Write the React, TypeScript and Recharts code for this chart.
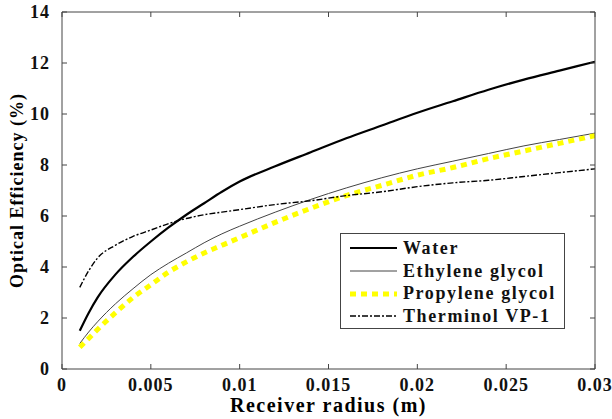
import { LineChart, Line, XAxis, YAxis, Legend } from 'recharts'

const radius = [0.001, 0.0015, 0.002, 0.003, 0.004, 0.005, 0.006, 0.007, 0.008, 0.009, 0.01, 0.012, 0.014, 0.016, 0.018, 0.02, 0.022, 0.024, 0.026, 0.028, 0.03]
const water = [1.5, 2.2, 2.8, 3.7, 4.4, 5.0, 5.55, 6.05, 6.5, 6.95, 7.35, 7.95, 8.5, 9.05, 9.55, 10.05, 10.5, 10.95, 11.35, 11.7, 12.05]
const ethylene = [1.0, 1.45, 1.85, 2.55, 3.15, 3.7, 4.15, 4.55, 4.95, 5.3, 5.6, 6.15, 6.65, 7.1, 7.5, 7.85, 8.15, 8.45, 8.75, 9.0, 9.25]
const propylene = [0.85, 1.2, 1.55, 2.2, 2.8, 3.3, 3.8, 4.2, 4.55, 4.85, 5.15, 5.75, 6.3, 6.8, 7.2, 7.6, 7.9, 8.25, 8.55, 8.85, 9.15]
const therminol = [3.2, 3.85, 4.35, 4.85, 5.2, 5.45, 5.7, 5.9, 6.05, 6.15, 6.25, 6.45, 6.6, 6.8, 6.95, 7.15, 7.3, 7.4, 7.55, 7.7, 7.85]

const xTicks = [0, 0.005, 0.01, 0.015, 0.02, 0.025, 0.03]
const yTicks = [0, 2, 4, 6, 8, 10, 12, 14]
const xDomain = [0, 0.03]
const yDomain = [0, 14]

const data = radius.map((r, i) => ({
  r,
  water: water[i],
  ethylene: ethylene[i],
  propylene: propylene[i],
  therminol: therminol[i],
}))

const FONT = '"Liberation Serif", "Times New Roman", serif'
const AXIS = '#444'

// every axis gets a series; all share the same domain, so the scales are identical
const series = [
  { key: 'water', name: 'Water', stroke: '#000', width: 2.2, dash: undefined as string | undefined, xId: 'bottom', yId: 'left' },
  { key: 'ethylene', name: 'Ethylene glycol', stroke: '#444', width: 1, dash: undefined, xId: 'bottomTicks', yId: 'leftTicks' },
  { key: 'propylene', name: 'Propylene glycol', stroke: '#ffff00', width: 5, dash: '6 5', xId: 'top', yId: 'right' },
  { key: 'therminol', name: 'Therminol VP-1', stroke: '#000', width: 1.4, dash: '6 2 2 2', xId: 'top', yId: 'right' },
]

function LegendBox() {
  return (
    <div
      style={{
        border: '1px solid #444',
        background: '#fff',
        width: 225,
        height: 96,
        boxSizing: 'border-box',
        padding: '3px 0 0 9px',
        fontFamily: FONT,
        fontWeight: 'bold',
        fontSize: 18,
        letterSpacing: 1.6,
        lineHeight: '22.7px',
      }}
    >
      {series.map((s) => (
        <div key={s.key} style={{ display: 'flex', alignItems: 'center', height: 22.7 }}>
          <svg width={47} height={10} style={{ marginRight: 6, flex: 'none' }}>
            <line x1={0} y1={5} x2={47} y2={5} stroke={s.stroke} strokeWidth={s.width} strokeDasharray={s.dash} />
          </svg>
          <span style={{ color: '#111', whiteSpace: 'nowrap' }}>{s.name}</span>
        </div>
      ))}
    </div>
  )
}

const tickStyle = { fontSize: 18, fontWeight: 'bold', fill: '#111', fontFamily: FONT, letterSpacing: 1 }
const noLabel = () => ''

export default function App() {
  return (
    <div style={{ position: 'absolute', left: 0, top: 0, width: 612, height: 419, background: '#fff' }}>
      <LineChart width={612} height={419} data={data} margin={{ top: 12, right: 17, bottom: 3, left: 7 }}>
        {/* box frame with inward tick marks */}
        <XAxis xAxisId="bottomTicks" type="number" dataKey="r" domain={xDomain} allowDataOverflow ticks={xTicks} interval={0} tickFormatter={noLabel} mirror tickSize={5} height={1} stroke={AXIS} />
        <XAxis xAxisId="top" orientation="top" type="number" dataKey="r" domain={xDomain} allowDataOverflow ticks={xTicks} interval={0} tickFormatter={noLabel} mirror tickSize={5} height={1} stroke={AXIS} />
        <YAxis yAxisId="leftTicks" type="number" domain={yDomain} allowDataOverflow ticks={yTicks} interval={0} tickFormatter={noLabel} mirror tickSize={5} width={1} stroke={AXIS} />
        <YAxis yAxisId="right" orientation="right" type="number" domain={yDomain} allowDataOverflow ticks={yTicks} interval={0} tickFormatter={noLabel} mirror tickSize={5} width={1} stroke={AXIS} />
        <XAxis
          xAxisId="bottom"
          dataKey="r"
          type="number"
          domain={xDomain}
          allowDataOverflow
          ticks={xTicks}
          interval={0}
          tick={tickStyle}
          tickLine={false}
          axisLine={false}
          tickMargin={3}
          height={47}
          stroke={AXIS}
          label={{ value: 'Receiver radius (m)', position: 'insideBottom', offset: 4, style: { fontSize: 20, fontWeight: 'bold', fill: '#000', fontFamily: FONT, letterSpacing: 1.5 } }}
        />
        <YAxis
          yAxisId="left"
          type="number"
          domain={yDomain}
          allowDataOverflow
          ticks={yTicks}
          interval={0}
          tick={tickStyle}
          tickLine={false}
          axisLine={false}
          tickMargin={6}
          width={55}
          stroke={AXIS}
          label={{ value: 'Optical Efficiency (%)', angle: -90, position: 'insideLeft', offset: 10, style: { textAnchor: 'middle', fontSize: 18, fontWeight: 'bold', fill: '#000', fontFamily: FONT, letterSpacing: 1 } }}
        />
        <Legend
          layout="vertical"
          align="center"
          verticalAlign="middle"
          wrapperStyle={{ left: 340, top: 233, width: 225 }}
          content={() => <LegendBox />}
        />
        {series.map((s) => (
          <Line
            key={s.key}
            xAxisId={s.xId}
            yAxisId={s.yId}
            type="monotone"
            dataKey={s.key}
            name={s.name}
            stroke={s.stroke}
            strokeWidth={s.width}
            strokeDasharray={s.dash}
            dot={false}
            isAnimationActive={false}
          />
        ))}
      </LineChart>
    </div>
  )
}
